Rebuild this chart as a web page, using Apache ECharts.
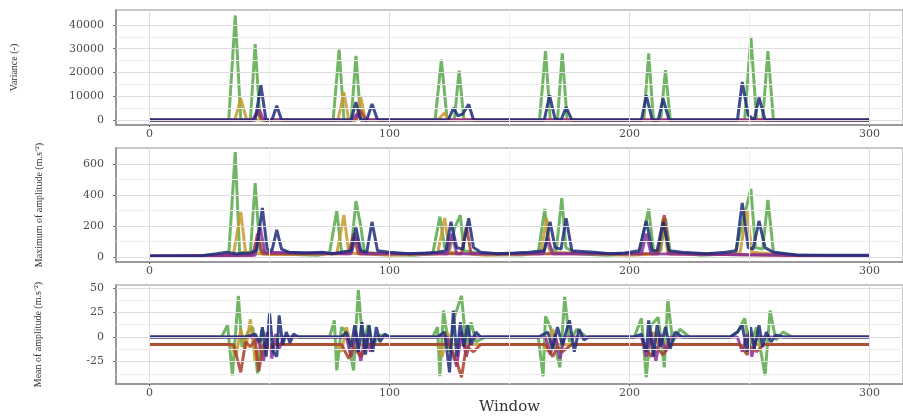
<!DOCTYPE html>
<html>
<head>
<meta charset="utf-8">
<script src="https://cdn.jsdelivr.net/npm/echarts@6/dist/echarts.min.js"></script>
<style>
  html, body { margin: 0; padding: 0; background: #ffffff; }
  #chart { width: 903px; height: 416px; }
</style>
</head>
<body>
<div id="chart"></div>
<script>
// axis ticks / grid positions
const xTicks = [0, 100, 200, 300];
const xMinor = [50, 150, 250];
const varTicks = [0, 10000, 20000, 30000, 40000];
const varMinor = [5000, 15000, 25000, 35000];
const maxTicks = [0, 200, 400, 600];
const maxMinor = [100, 300, 500];
const meanTicks = [-25, 0, 25, 50];
const meanMinor = [-37.5, -12.5, 12.5, 37.5];

// Panel 1 : variance  [window, value]
const varGreen = [[0,0],[33,0],[35.7,44000],[38,0],[42,0],[44,32000],[46,0],[76.5,0],[79,29600],[81,0],[84,0],[86,27000],[88,0],[119,0],[121.6,25400],[124,0],[127,0],[129,20800],[131,0],[162.5,0],[165,29000],[167,0],[170,0],[172,28000],[174,0],[206,0],[208,28000],[210,0],[213,0],[215,21000],[217,0],[248,0],[250.6,35000],[253,0],[255.5,0],[257.7,29000],[260,0],[300,0]];
const varOrange = [[0,0],[35.5,0],[38,9000],[40.5,0],[78.5,0],[81,11700],[83,0],[86,0],[88,9600],[90,0],[120,0],[123,3000],[125,0],[300,0]];
const varRed = [[0,0],[43,0],[45,3000],[47,0],[86,0],[88,4000],[90,0],[300,0]];
const varPurple = [[0,0],[43,0],[45.5,5000],[47.5,0],[84,0],[86.5,2500],[88.5,0],[300,0]];
const varNavy = [[0,0],[44,0],[46.4,14600],[48.5,0],[51,0],[53,6000],[55,0],[84,0],[86,7500],[88,0],[90.5,0],[92.7,6700],[95,0],[124.5,0],[126.6,5000],[128.5,1800],[130.5,2500],[133,6600],[135,0],[164.5,0],[166.7,10400],[169,500],[171.5,0],[173.6,5400],[176,0],[205,0],[207,10400],[209.5,0],[212,0],[214,9000],[216.5,0],[245,0],[247,16000],[249.5,2000],[252,0],[254,9500],[256.5,0],[300,0]];

// Panel 2 : maximum of amplitude
const maxGreen = [[0,5],[20,6],[30,15],[33,20],[35.7,677],[37.5,30],[42,25],[44,477],[46,40],[50,25],[60,15],[70,10],[75,25],[78,297],[80,30],[84,40],[86,360],[88,200],[89.5,30],[100,15],[110,10],[118,20],[121,260],[123,60],[125,40],[127,180],[129.5,270],[131,40],[140,15],[155,12],[162,30],[164.7,310],[166.5,50],[169.5,40],[171.8,380],[173.5,60],[178,20],[190,10],[204,20],[208,310],[210,40],[213,40],[215,250],[217,30],[230,10],[244,20],[250.6,439],[252.5,60],[255.5,50],[257.7,368],[260,30],[270,8],[300,5]];
const maxOrange = [[0,3],[28,10],[35,20],[38,290],[40,30],[50,15],[78,20],[81,270],[83,25],[100,10],[120,20],[123,250],[125,30],[140,10],[163,20],[165.5,250],[167,30],[200,10],[212,20],[214,250],[216,20],[246,20],[249,300],[251,30],[270,5],[300,3]];
const maxRed = [[0,3],[43,10],[45,150],[47,20],[83,20],[85,150],[87,20],[130,20],[132,200],[134,20],[212,20],[214.5,270],[216.5,20],[300,3]];
const maxPurple = [[0,5],[44,10],[46,200],[48,30],[84,20],[86,130],[88,20],[124,20],[126,150],[128,20],[164,20],[166,120],[168,20],[205,20],[207,150],[209,20],[300,5]];
const maxNavy = [[0,5],[20,5],[28,20],[32,30],[36,20],[42,25],[44.5,40],[47,316],[49,50],[51,40],[53,174],[55,50],[58,30],[65,25],[72,30],[76,20],[84,40],[86,190],[88,40],[90.5,30],[92.7,226],[95,40],[100,30],[108,20],[115,25],[120,30],[123.5,40],[125.6,226],[128,60],[130.5,50],[133,250],[135,60],[138,30],[145,20],[152,25],[158,30],[164.5,40],[166.9,226],[169,60],[171.5,50],[173.6,250],[176,40],[185,30],[192,20],[198,25],[204,40],[207,232],[209.5,40],[211.5,40],[214,226],[216.5,40],[222,30],[232,20],[240,30],[244.5,40],[247,348],[249.5,60],[251.5,50],[254,232],[256.5,60],[260,30],[270,12],[285,10],[300,10]];

// Panel 3 : mean of amplitude
const meanGreen = [[0,0],[30,0],[32.5,12],[34.5,-39],[37,42],[38.5,-10],[41,5],[43,10],[45,-37],[47,8],[49,-5],[52,0],[75,0],[77,17],[78,-34],[80,10],[82,5],[85,-34],[87,48],[89,-10],[91,12],[93,-8],[96,2],[100,0],[118,0],[120,10],[121,-40],[122.5,27],[125,-15],[127,20],[130,42],[132,-10],[134,15],[136,-5],[140,0],[162,0],[164,-40],[165,21],[167,10],[169,-10],[171,-31],[173,41],[175,-5],[178,8],[182,0],[202,0],[205,19],[207,-41],[209,12],[212,20],[214.5,-31],[216,38],[218,-5],[221,8],[225,0],[242,0],[245,5],[248,19],[250,-10],[253,10],[256.5,-39],[258.6,27],[261,-3],[264,5],[268,0],[300,0]];
const meanOrange = [[0,-7.7],[34,-7.7],[36,-20],[38,8],[40,-12],[42,18],[44,-25],[46,-7.7],[78,-7.7],[80,-15],[82,10],[84,-7.7],[120,-7.7],[122,-20],[124,5],[126,-7.7],[164,-7.7],[166,-15],[168,8],[170,-7.7],[206,-7.7],[208,-12],[210,5],[212,-7.7],[246,-7.7],[248,-10],[250,5],[252,-7.7],[300,-7.7]];
const meanPurple = [[0,0],[44,0],[46,-8],[47.5,-25],[49,5],[51,-22],[52.5,3],[54,-12],[56,0],[82,0],[84,-20],[86,5],[88,-25],[90,3],[92,-15],[94,0],[124,0],[126,-15],[128,-30],[130,5],[132,-20],[134,0],[165,0],[167,-18],[169,3],[171,-22],[173,0],[205,0],[207,-20],[209,5],[211,-25],[213,3],[215,-15],[217,0],[245,0],[247,-15],[249,3],[251,-20],[253,0],[300,0]];
const meanRed = [[0,-7.7],[35,-7.7],[38,-36],[40,-5],[42,-10],[44,-3],[45.5,-35],[47.5,-8],[50,-12],[52,-7.7],[80,-7.7],[83,-22],[85,-10],[88,-20],[91,-7.7],[125,-7.7],[128,-25],[130,-41],[132,-10],[135,-15],[138,-7.7],[165,-7.7],[168,-20],[170,-10],[172,-15],[176,-7.7],[206,-7.7],[209,-20],[211,-10],[214,-18],[217,-7.7],[246,-7.7],[249,-18],[251,-10],[253,-15],[256,-7.7],[300,-7.7]];
const meanNavy = [[0,0],[40,0],[44,3],[46,-5],[47,10],[48.6,-20],[50,24],[51.5,-15],[53,-20],[54,22],[55.5,-8],[57,5],[58.5,-6],[60,3],[62,0],[80,0],[82,5],[84,-10],[85.5,12],[87,-15],[88.5,15],[90,-18],[91.5,12],[93,-15],[94.5,10],[96,-5],[98,3],[100,0],[120,0],[123,5],[125,-36],[126.6,27],[128,-20],[129.5,15],[131,-10],[132.5,12],[134,-8],[136,5],[138,0],[162,0],[166,5],[168,-12],[170,10],[172,-8],[175,17],[177,-15],[179,8],[181,-3],[183,0],[202,0],[205,3],[207,-15],[208,17],[210,-20],[211.5,12],[213,-10],[215,10],[217,-12],[219,5],[222,0],[242,0],[245,5],[247,12],[249,-15],[250.5,10],[252,-12],[254,12],[255.5,-10],[257,5],[259,-5],[261,2],[264,0],[300,0]];

const GREEN = "#58a84a";
const ORANGE = "#c99a2e";
const RED = "#a8402e";
const PURPLE = "#8b2f9c";
const NAVY = "#1f2d7a";

const chart = echarts.init(document.getElementById("chart"));

const tickFont = { fontFamily: "DejaVu Serif", fontSize: 11, color: "#4d4d4d" };
const plain = (v) => String(v);

function xAxisFor(gi, withName) {
  return {
    type: "value",
    gridIndex: gi,
    min: -14,
    max: 314,
    name: withName ? "Window" : "",
    nameLocation: "middle",
    nameGap: 9,
    nameTextStyle: { fontFamily: "DejaVu Serif", fontSize: 15, color: "#333" },
    axisLine: { show: true, onZero: false, lineStyle: { color: "#8a8a8a", width: 1.5 } },
    axisTick: { show: true, length: 2, customValues: xTicks, lineStyle: { color: "#555" } },
    axisLabel: Object.assign({ margin: 4, customValues: xTicks, formatter: plain }, tickFont),
    splitLine: { show: false },
  };
}

function yAxisFor(gi, min, max, ticks, name, gap) {
  return {
    type: "value",
    gridIndex: gi,
    min: min,
    max: max,
    name: name,
    nameLocation: "middle",
    nameGap: gap,
    nameTextStyle: { fontFamily: "Liberation Serif", fontSize: 10, color: "#333" },
    axisLine: { show: true, onZero: false, lineStyle: { color: "#8a8a8a", width: 1.5 } },
    axisTick: { show: true, length: 3, customValues: ticks, lineStyle: { color: "#777" } },
    axisLabel: Object.assign({ margin: 12, customValues: ticks, formatter: plain }, tickFont),
    splitLine: { show: false },
  };
}

// grid lines drawn as mark lines on an invisible series
function gridLines(gi, yMajor, yMinor) {
  const major = { color: "#dedede", width: 1, type: "solid" };
  const minor = { color: "#eeeeee", width: 1, type: "solid" };
  const data = []
    .concat(xTicks.map((v) => ({ xAxis: v, lineStyle: major })))
    .concat(xMinor.map((v) => ({ xAxis: v, lineStyle: minor })))
    .concat(yMajor.map((v) => ({ yAxis: v, lineStyle: major })))
    .concat(yMinor.map((v) => ({ yAxis: v, lineStyle: minor })));
  return {
    type: "line",
    xAxisIndex: gi,
    yAxisIndex: gi,
    data: [[0, 0]],
    symbol: "none",
    lineStyle: { opacity: 0 },
    silent: true,
    z: 1,
    markLine: {
      silent: true,
      symbol: "none",
      label: { show: false },
      animation: false,
      data: data,
    },
  };
}

function line(gi, data, color) {
  return {
    type: "line",
    xAxisIndex: gi,
    yAxisIndex: gi,
    data: data,
    symbol: "none",
    smooth: false,
    lineStyle: { color: color, width: 3, opacity: 0.85 },
    itemStyle: { color: color },
    z: 3,
  };
}

const option = {
  animation: false,
  backgroundColor: "#ffffff",
  grid: [
    { left: 116, width: 791, top: 10, height: 115, show: true, borderColor: "#b5b5b5", borderWidth: 1.5, backgroundColor: "#fff" },
    { left: 116, width: 791, top: 148, height: 114, show: true, borderColor: "#b5b5b5", borderWidth: 1.5, backgroundColor: "#fff" },
    { left: 116, width: 791, top: 285, height: 105, show: true, borderColor: "#b5b5b5", borderWidth: 1.5, backgroundColor: "#fff" },
  ],
  xAxis: [xAxisFor(0, false), xAxisFor(1, false), xAxisFor(2, true)],
  yAxis: [
    yAxisFor(0, -2100, 46300, varTicks, "Variance (-)", 97),
    yAxisFor(1, -33, 703, maxTicks, "Maximum of amplitude (m.s⁻²)", 72),
    yAxisFor(2, -48, 53, meanTicks, "Mean of amplitude (m.s⁻²)", 73),
  ],
  series: [
    gridLines(0, varTicks, varMinor),
    gridLines(1, maxTicks, maxMinor),
    gridLines(2, meanTicks, meanMinor),

    line(0, varGreen, GREEN),
    line(0, varOrange, ORANGE),
    line(0, varRed, RED),
    line(0, varPurple, PURPLE),
    line(0, varNavy, NAVY),

    line(1, maxGreen, GREEN),
    line(1, maxOrange, ORANGE),
    line(1, maxRed, RED),
    line(1, maxPurple, PURPLE),
    line(1, maxNavy, NAVY),

    line(2, meanGreen, GREEN),
    line(2, meanOrange, ORANGE),
    line(2, meanPurple, PURPLE),
    line(2, meanRed, RED),
    line(2, meanNavy, NAVY),
  ],
};

chart.setOption(option);
</script>
</body>
</html>
